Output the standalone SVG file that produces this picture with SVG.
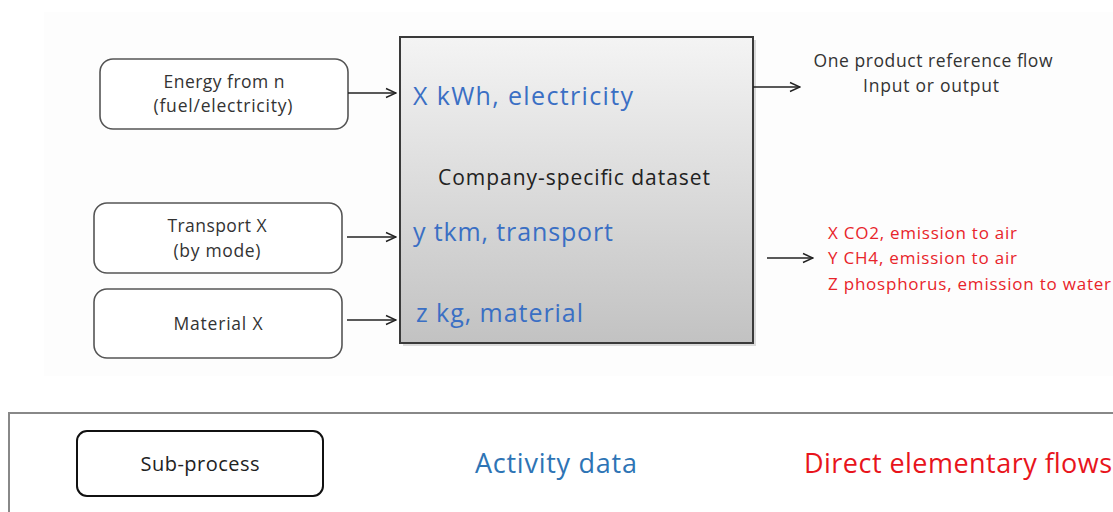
<svg xmlns="http://www.w3.org/2000/svg" width="1113" height="512" viewBox="0 0 1113 512">
<defs>
<linearGradient id="boxgrad" x1="0" y1="0" x2="0" y2="1">
<stop offset="0" stop-color="#f4f4f4"/>
<stop offset="1" stop-color="#c2c2c2"/>
</linearGradient>
<marker id="arr" viewBox="0 0 12 12" refX="11" refY="6" markerWidth="12" markerHeight="12" markerUnits="userSpaceOnUse" orient="auto">
<polyline points="1,1.5 11,6 1,10.5" fill="none" stroke="#222" stroke-width="1.4"/>
</marker>
</defs>
<style>
.sub{fill:#fff;stroke:#555;stroke-width:1.6}
.f{font-family:"Open Sans","Noto Sans","Liberation Sans",sans-serif}
.nt{font-size:17.5px;fill:#333;text-anchor:middle}
.act{font-size:25px;fill:#3a6fc4}
.red{font-size:17px;fill:#e8242a}
.blk{fill:#222}
.con{stroke:#222;stroke-width:1.4;fill:none;marker-end:url(#arr)}
</style>
<rect x="0" y="0" width="1113" height="512" fill="#fff"/>
<rect x="44" y="12" width="1069" height="364" fill="#fdfdfd"/>

<g id="energy">
<rect x="100" y="59" width="248" height="70" rx="13" class="sub"/>
<text x="224" y="88" class="f nt" textLength="121">Energy from n</text>
<text x="223" y="112" class="f nt" textLength="139">(fuel/electricity)</text>
</g>
<g id="transport">
<rect x="94" y="203" width="248" height="70" rx="13" class="sub"/>
<text x="217" y="232" class="f nt" textLength="99">Transport X</text>
<text x="217" y="257" class="f nt" textLength="87">(by mode)</text>
</g>
<g id="material">
<rect x="94" y="289" width="248" height="69" rx="13" class="sub"/>
<text x="218" y="330" class="f nt" textLength="89">Material X</text>
</g>

<g id="dataset">
<rect x="403" y="40" width="353" height="306" fill="#999" opacity="0.35"/>
<rect x="400" y="37" width="353" height="306" fill="url(#boxgrad)" stroke="#3a3a3a" stroke-width="2"/>
<text x="413" y="105" class="f act" textLength="220">X kWh, electricity</text>
<text x="438" y="185" class="f blk" font-size="21" textLength="272">Company-specific dataset</text>
<text x="413" y="241" class="f act" textLength="200">y tkm, transport</text>
<text x="416" y="322" class="f act" textLength="167">z kg, material</text>
</g>

<g id="reference-flow">
<text x="933" y="67" class="f" font-size="17.5" fill="#333" text-anchor="middle" textLength="239">One product reference flow</text>
<text x="931" y="92" class="f" font-size="17.5" fill="#333" text-anchor="middle" textLength="136">Input or output</text>
</g>

<g id="emissions">
<text x="828" y="239" class="f red" textLength="189">X CO2, emission to air</text>
<text x="828" y="264" class="f red" textLength="189">Y CH4, emission to air</text>
<text x="828" y="290" class="f red" textLength="283">Z phosphorus, emission to water</text>
</g>

<g id="connectors">
<line x1="348" y1="93" x2="396" y2="93" class="con"/>
<line x1="347" y1="237" x2="396" y2="237" class="con"/>
<line x1="347" y1="320" x2="396" y2="320" class="con"/>
<line x1="753" y1="87" x2="800" y2="87" class="con"/>
<line x1="767" y1="258" x2="813" y2="258" class="con"/>
</g>

<g id="legend">
<rect x="9" y="413" width="1120" height="120" fill="#fff" stroke="#888" stroke-width="2"/>
<g id="legend-subprocess">
<rect x="77" y="431" width="246" height="65" rx="10" fill="#fff" stroke="#111" stroke-width="2"/>
<text x="200" y="471" class="f" font-size="20" fill="#222" text-anchor="middle" textLength="119">Sub-process</text>
</g>
<text x="475" y="473" class="f" font-size="27" fill="#2e74b5" textLength="162">Activity data</text>
<text x="804" y="473" class="f" font-size="27" fill="#e8141c" textLength="308">Direct elementary flows</text>
</g>
</svg>
